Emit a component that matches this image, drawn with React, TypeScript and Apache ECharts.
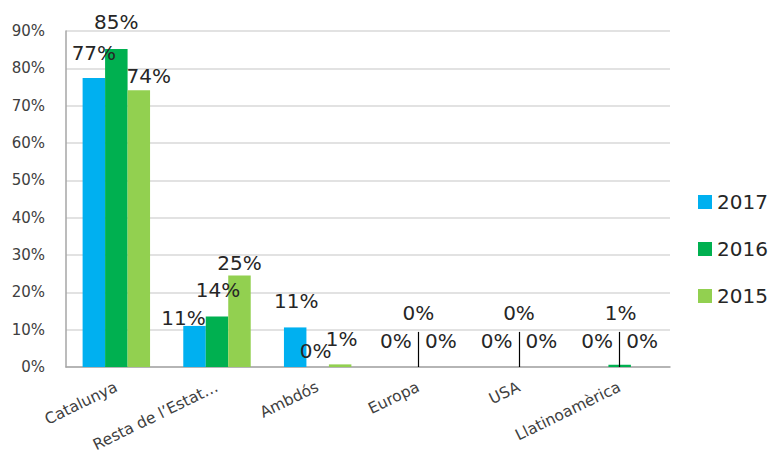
import React, { useEffect, useRef } from "react";
import * as echarts from "echarts";

const categories = ["Catalunya", "Resta de l’Estat…", "Ambdós", "Europa", "USA", "Llatinoamèrica"];
const seriesNames = ["2017", "2016", "2015"];
const values2017 = [77.4, 11, 10.6, 0, 0, 0];
const values2016 = [85.2, 13.5, 0, 0, 0, 0.6];
const values2015 = [74.1, 24.5, 0.7, 0, 0, 0];
const colors = ["#00b0f0", "#00b050", "#92d050"];
// label offsets (style), per bar
const offsets2017 = [[0, -15], [-11, 2], [1, -16], [0, -16], [0, -16], [0, -16]];
const offsets2016 = [[0, -17], [1, -17], [-2, -6], [0, -44], [0, -44], [1, -42]];
const offsets2015 = [[10, -4], [0, -3], [1.5, -15], [0, -16], [0, -16], [0, -16]];
const leaderCategories = ["Europa", "USA", "Llatinoamèrica"];
const leaderTop = 9.4;
const yTicks = { min: 0, max: 90, interval: 10 };

const FONT = "DejaVu Sans";

function buildData(vals: number[], offs: number[][]) {
  return vals.map((v, i) => ({
    value: v,
    label: { offset: offs[i] },
  }));
}

export default function App() {
  const ref = useRef<HTMLDivElement>(null);
  useEffect(() => {
    if (!ref.current) return;
    const chart = echarts.init(ref.current, null, { renderer: "svg" });
    const labelCfg = {
      show: true,
      position: "top",
      distance: 0,
      fontFamily: FONT,
      fontSize: 20,
      color: "#262626",
      formatter: (p: any) => Math.round(p.value) + "%",
    };
    const allVals = [values2017, values2016, values2015];
    const allOffs = [offsets2017, offsets2016, offsets2015];
    const series: any[] = seriesNames.map((name, si) => ({
      name,
      type: "bar",
      barGap: "0%",
      barCategoryGap: "33%",
      itemStyle: { color: colors[si] },
      label: labelCfg,
      data: buildData(allVals[si], allOffs[si]),
    }));
    series[1].markLine = {
      silent: true,
      symbol: "none",
      label: { show: false },
      lineStyle: { color: "#000000", width: 1.2, type: "solid" },
      data: leaderCategories.map((c) => [
        { coord: [c, 0] },
        { coord: [c, leaderTop] },
      ]),
    };
    chart.setOption({
      animation: false,
      backgroundColor: "#ffffff",
      grid: {
        left: 66,
        right: 103,
        top: 31,
        bottom: 88,
        containLabel: false,
        outerBoundsMode: "none",
      },
      legend: {
        data: seriesNames,
        orient: "vertical",
        left: 693,
        top: 187,
        icon: "rect",
        itemWidth: 14,
        itemHeight: 14,
        itemGap: 27,
        textStyle: { fontFamily: FONT, fontSize: 20, lineHeight: 20, color: "#262626" },
      },
      xAxis: {
        type: "category",
        data: categories,
        axisLine: { lineStyle: { color: "#a6a6a6", width: 1.5 } },
        axisTick: { show: false },
        axisLabel: {
          interval: 0,
          rotate: 26,
          margin: 19,
          fontFamily: FONT,
          fontSize: 15.5,
          color: "#404040",
        },
      },
      yAxis: {
        type: "value",
        min: yTicks.min,
        max: yTicks.max,
        interval: yTicks.interval,
        axisLine: { show: true, lineStyle: { color: "#a6a6a6", width: 1.5 } },
        axisTick: { show: false },
        splitLine: { lineStyle: { color: "#d9d9d9", width: 1.5 } },
        axisLabel: {
          formatter: "{value}%",
          margin: 21,
          fontFamily: FONT,
          fontSize: 15,
          color: "#404040",
        },
      },
      series,
    });
    return () => chart.dispose();
  }, []);
  return (
    <div
      ref={ref}
      style={{ position: "fixed", left: 0, top: 0, width: 773, height: 455 }}
    />
  );
}
